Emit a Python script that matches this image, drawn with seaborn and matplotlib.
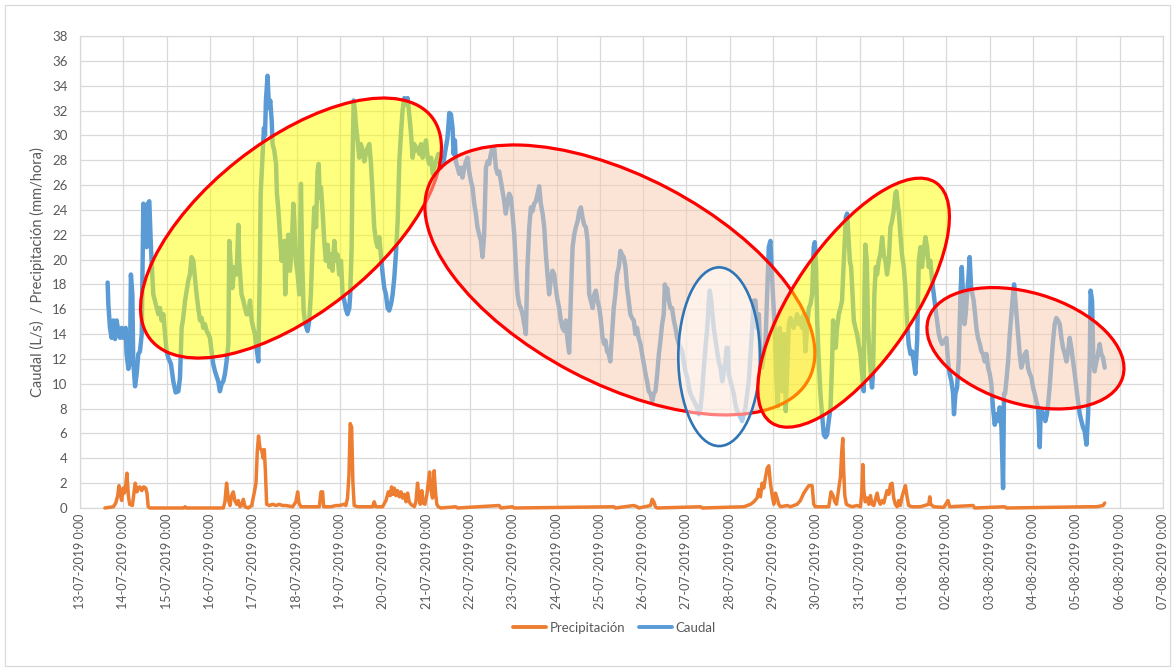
import pandas as pd
import matplotlib
matplotlib.use("Agg")
import matplotlib.pyplot as plt
import matplotlib.dates as mdates
from matplotlib.patches import Ellipse, Rectangle
from matplotlib.transforms import ScaledTranslation
from matplotlib.lines import Line2D
from matplotlib.ticker import FuncFormatter
import seaborn as sns

# ---------------------------------------------------------------------------
# Data: hours since 13-07-2019 00:00 and measured values
# ---------------------------------------------------------------------------
START = pd.Timestamp("2019-07-13 00:00")
END = pd.Timestamp("2019-08-07 00:00")

caudal_hours = [
    15.3, 15.7, 16.6, 17.5, 18.5, 19.4, 20.3, 21.2, 22.2, 23.1,
    24.0, 25.3, 25.8, 26.8, 27.7, 28.2, 29.0, 29.5, 30.5, 31.4,
    32.3, 33.2, 34.2, 35.1, 36.0, 36.9, 37.5, 38.4, 39.3, 40.6,
    41.5, 42.5, 43.4, 44.3, 45.2, 46.2, 47.1, 48.0, 48.9, 50.4,
    51.7, 53.0, 54.5, 55.4, 56.3, 57.2, 58.2, 59.1, 60.0, 60.9,
    61.8, 62.8, 63.7, 64.6, 65.5, 66.5, 67.4, 68.3, 69.2, 70.2,
    71.1, 72.0, 72.9, 73.8, 74.8, 76.6, 77.5, 78.5, 79.4, 80.3,
    81.2, 82.2, 82.7, 83.6, 84.4, 85.5, 86.8, 87.7, 88.2, 89.5,
    90.5, 91.4, 92.3, 93.2, 94.2, 95.1, 96.0, 96.9, 97.8, 98.8,
    99.7, 100.1, 101.0, 101.9, 102.5,
    103.0, 103.9, 104.7, 105.4, 106.2, 106.7, 107.6, 108.6, 109.1, 109.8,
    110.8, 111.7, 112.6, 113.2, 113.7, 114.6, 115.4, 116.3, 117.2, 118.2,
    118.7, 119.6, 120.6, 121.5, 122.4, 123.0, 123.9, 124.8, 126.1, 127.0,
    127.9, 128.9, 129.8, 130.8, 131.6, 132.2, 132.9, 133.5, 134.4, 135.3,
    136.2, 137.2, 138.1, 139.0, 139.9, 140.9, 141.8, 142.7, 143.6, 144.6,
    145.5, 146.4, 147.3, 148.2, 149.2, 149.7, 150.5, 151.0, 151.6, 152.3,
    153.0, 153.8, 154.7, 155.6, 156.6, 157.5, 158.4, 159.3, 160.3, 161.2,
    162.1, 163.0, 164.0, 164.9, 165.8, 166.7, 167.7, 168.6, 169.5, 170.4,
    171.3, 172.3, 173.2, 174.1, 175.0, 176.0, 176.9, 177.8, 178.7, 179.7,
    180.6, 181.5, 182.4, 183.4, 184.3, 185.2, 186.1, 187.0, 188.0, 188.9,
    189.8, 190.7, 191.7, 192.6, 193.5, 194.5, 195.4, 196.3,
    197.2, 198.5, 199.9, 201.4, 202.7, 203.6, 204.6, 205.5, 206.4, 207.0,
    207.7, 208.2, 209.2, 210.1, 211.0, 211.9, 212.9, 213.8, 214.7, 215.6,
    216.6, 217.5, 218.4, 219.3, 220.2, 221.2, 222.1, 223.0, 223.9, 224.9,
    225.8, 226.7, 227.6, 228.6, 229.5, 230.4, 231.3, 232.2, 233.2, 234.1,
    235.0, 235.9, 236.9, 237.8, 238.7, 239.6, 240.6, 241.5, 242.4, 243.3,
    244.2, 245.2, 246.1, 247.0, 247.9, 248.9, 249.8, 250.7, 251.6, 252.6,
    253.5, 254.4, 255.3, 256.3, 257.2, 258.1, 259.0, 259.9, 260.9, 261.8,
    262.7, 263.6, 264.6, 265.5, 266.4, 267.3, 268.3, 269.2, 270.1, 271.0,
    272.0, 272.9, 273.8, 274.7, 275.7, 276.6, 277.5, 278.4, 279.3, 280.3,
    281.2, 282.1, 283.0, 284.0, 284.9, 285.8, 286.7, 287.7, 288.6, 289.5,
    290.4,
    291.1, 292.0, 292.9, 293.8, 294.8, 295.7, 296.6, 297.5, 298.5, 299.4,
    300.3, 301.2, 302.2, 303.1, 304.0, 304.9, 305.8, 306.8, 307.7, 308.6,
    309.5, 310.5, 311.4, 312.4, 313.3, 314.2, 315.1, 316.1, 317.0, 317.9,
    318.8, 319.8, 320.7, 321.6, 322.5, 323.4, 324.0, 324.7, 325.3, 326.2,
    327.1, 328.0, 329.0, 329.9, 330.8, 331.8, 332.7, 333.6, 334.5, 335.4,
    336.4, 337.3, 338.2, 339.1, 340.1, 341.0, 341.9, 342.8, 343.8, 344.7,
    345.6, 346.5, 347.5, 348.4, 348.9, 349.7, 350.4, 351.1, 352.1, 353.0,
    353.9, 354.8, 355.8, 356.7, 357.6, 358.2, 358.9, 359.4, 360.4, 361.3,
    362.2, 363.1, 364.1, 365.0, 365.9, 366.8, 367.8, 368.7, 369.6, 370.5,
    371.5, 372.4, 373.3, 374.2, 375.1, 376.1, 377.0, 377.9, 378.8, 379.8,
    380.7, 381.6, 382.5, 383.5, 384.4,
    384.9, 385.8, 386.6, 387.1, 387.7, 388.4, 389.0, 389.5, 390.3, 391.0,
    391.8, 392.7, 393.6, 394.5, 395.4, 396.4, 397.3, 398.2, 399.1, 400.1,
    401.0, 401.9, 402.8, 403.8, 404.7, 405.6, 406.5, 407.1, 407.8, 408.4,
    409.3, 410.2, 411.1, 412.1, 413.0, 413.9, 414.8, 415.8, 416.7, 417.2,
    418.0, 418.7, 419.4, 420.4, 421.3, 422.2, 422.8, 423.5, 424.3, 425.0,
    425.7, 426.5, 427.2, 428.0, 428.7, 429.6, 430.5, 431.4, 432.4, 433.3,
    434.2, 434.6, 435.1, 435.9, 436.6, 437.4, 438.1, 438.8, 439.4, 440.1,
    440.9, 441.6, 442.5, 443.4, 444.4, 445.3, 446.2, 447.1, 448.1, 449.0,
    449.9, 450.8, 451.7, 452.3, 453.0, 453.7, 454.5, 455.4, 456.4, 457.3,
    458.2, 459.1, 460.1, 461.0, 461.9, 462.8, 463.8, 464.7, 465.6, 466.5,
    467.4, 468.4, 469.3, 470.2, 471.1, 472.1, 473.0, 473.9, 474.8, 475.8,
    476.7, 477.6,
    480.0, 480.9, 481.8, 482.8, 483.7, 484.2, 485.0, 485.9, 486.8, 487.8,
    488.5, 489.2, 490.0, 490.7, 491.4, 492.2, 492.9, 493.7, 494.4, 495.1,
    495.9, 496.6, 497.5, 498.5, 499.4, 500.3, 501.2, 502.2, 503.1, 504.0,
    504.9, 505.8, 506.8, 507.7, 508.6, 509.5, 510.5, 511.4, 511.9, 512.5,
    513.2, 514.2, 515.1, 516.0, 516.9, 517.5, 518.2, 519.0, 519.7, 520.6,
    521.5, 522.5, 523.4, 524.3, 525.2, 526.2, 527.1, 528.0, 528.9, 529.8,
    530.8, 531.7, 532.2, 533.0, 533.9, 534.8, 535.7, 536.5, 537.2, 538.2,
    539.1, 540.0, 540.9, 541.9, 542.8, 543.7, 544.6, 545.6, 546.5, 547.4,
    548.3, 549.2, 550.2, 551.1, 552.0, 552.9, 553.9, 554.8, 555.7, 556.6,
    557.6, 558.5, 559.4, 559.9, 560.7, 561.4, 562.1, 563.1, 564.0, 564.9,
    565.8, 566.8, 567.7,
]

caudal_lps = [
    18.15, 16.4, 14.5, 13.7, 15.1, 13.6, 15.1, 14.25, 13.7, 14.5,
    13.7, 14.5, 12.4, 11.2, 11.8, 18.8, 17.2, 11.8, 9.8, 10.8,
    12.4, 12.6, 14.0, 24.5, 23.1, 21.0, 24.5, 24.7, 21.0, 17.2,
    16.7, 16.1, 15.6, 16.1, 15.1, 15.6, 14.0, 12.6, 12.1, 11.6,
    10.2, 9.3, 9.4, 10.5, 14.5, 15.3, 16.7, 17.5, 18.3, 18.8,
    20.2, 19.9, 18.5, 17.2, 16.1, 15.1, 15.3, 14.5, 14.8, 14.25,
    14.0, 13.7, 12.6, 11.6, 11.0, 10.2, 9.4, 10.0, 10.2, 10.8,
    11.8, 13.2, 21.5, 19.4, 17.7, 19.4, 18.8, 22.8, 19.9, 17.2,
    16.7, 16.1, 15.6, 15.6, 16.7, 15.1, 14.5, 14.0, 12.9, 11.8,
    19.9, 25.3, 27.9, 30.6, 30.0,
    32.8, 34.8, 32.2, 32.8, 31.2, 29.3, 28.8, 27.7, 25.3, 24.2,
    22.0, 19.9, 21.0, 21.5, 17.2, 20.4, 22.0, 19.1, 20.7, 24.5,
    23.1, 19.9, 18.8, 17.2, 26.1, 20.4, 15.9, 14.8, 14.25, 15.1,
    17.2, 21.2, 24.2, 22.6, 27.1, 27.7, 25.0, 25.8, 23.9, 21.5,
    19.9, 21.2, 19.4, 20.4, 19.1, 21.5, 19.9, 20.4, 18.8, 19.9,
    17.2, 16.7, 16.0, 15.6, 16.1, 17.2, 21.0, 27.9, 32.8, 32.0,
    30.6, 29.6, 28.2, 29.3, 28.8, 27.9, 28.5, 29.0, 29.3, 27.7,
    25.3, 22.6, 21.5, 21.0, 21.8, 20.4, 18.8, 17.7, 17.2, 16.1,
    15.9, 16.4, 17.2, 18.5, 20.4, 23.1, 27.9, 30.1, 32.0, 33.0,
    32.5, 33.0, 31.7, 30.1, 28.2, 29.3, 28.8, 29.0, 28.5, 29.3,
    28.2, 29.0, 29.6, 28.2, 27.7, 28.2, 26.9, 27.4,
    27.9, 28.5, 27.4, 27.9, 29.0, 29.8, 31.8, 31.7, 30.6, 28.5,
    29.6, 27.9, 27.4, 26.9, 27.4, 26.6, 27.4, 27.9, 28.2, 27.1,
    26.3, 25.8, 24.5, 23.7, 22.6, 22.0, 21.5, 20.2, 22.0, 27.4,
    27.9, 27.7, 28.5, 29.0, 29.0, 27.4, 26.9, 27.1, 26.3, 25.5,
    24.7, 23.7, 24.7, 25.3, 25.0, 23.7, 22.0, 19.4, 17.2, 16.4,
    16.1, 15.6, 14.8, 14.0, 19.4, 22.6, 24.2, 23.9, 24.5, 24.7,
    25.3, 25.9, 24.5, 23.7, 22.6, 20.4, 18.8, 17.2, 18.5, 19.1,
    18.8, 17.7, 16.7, 16.1, 15.1, 14.5, 14.25, 15.1, 13.5, 12.5,
    17.2, 21.0, 22.0, 22.6, 23.1, 23.9, 24.2, 23.4, 22.8, 22.6,
    21.5, 17.2, 16.7, 16.1, 17.2, 17.5, 16.7, 16.1, 15.1, 13.7,
    13.2,
    13.5, 12.6, 12.4, 11.8, 14.0, 16.1, 17.2, 18.8, 19.4, 20.7,
    20.4, 20.2, 19.4, 17.7, 16.7, 15.6, 15.3, 15.1, 14.0, 14.5,
    13.7, 13.2, 12.4, 11.6, 10.8, 10.2, 9.4, 9.2, 8.6, 9.2,
    9.4, 10.8, 12.4, 13.5, 14.8, 15.6, 18.0, 17.2, 17.7, 16.7,
    16.1, 16.1, 15.1, 14.5, 13.7, 13.2, 12.9, 12.6, 11.8, 11.0,
    10.5, 9.7, 9.2, 8.9, 8.6, 8.35, 8.1, 7.55, 8.1, 9.4,
    11.3, 12.9, 14.5, 16.7, 17.5, 16.7, 15.6, 14.5, 13.5, 12.6,
    11.8, 11.3, 10.2, 11.0, 11.8, 12.9, 12.9, 10.8, 10.2, 9.7,
    9.2, 8.35, 7.8, 7.55, 7.3, 7.0, 7.55, 8.1, 9.2, 10.2,
    12.4, 14.5, 16.7, 16.7, 14.5, 15.6, 11.8, 11.3, 12.4, 13.5,
    17.2, 21.0, 21.5, 18.3, 15.9,
    14.5, 10.5, 8.2, 12.4, 14.5, 13.2, 9.4, 10.2, 14.0, 7.8,
    11.0, 14.8, 15.3, 14.8, 14.5, 15.1, 15.6, 14.8, 15.3, 14.5,
    15.6, 12.6, 14.5, 16.1, 16.4, 17.2, 21.0, 21.4, 19.4, 15.1,
    11.8, 9.2, 7.55, 5.9, 5.7, 5.9, 7.0, 8.1, 11.8, 15.1,
    14.0, 12.9, 14.5, 15.6, 16.1, 16.7, 18.8, 21.0, 23.4, 23.7,
    22.0, 19.9, 19.4, 17.2, 15.1, 14.5, 14.0, 13.2, 12.4, 10.8,
    9.4, 17.2, 21.2, 19.9, 14.5, 12.4, 10.8, 9.7, 11.0, 17.2,
    19.4, 18.8, 19.9, 20.4, 21.8, 20.4, 19.9, 18.8, 19.9, 22.6,
    23.1, 23.9, 25.3, 25.5, 24.5, 23.7, 22.0, 20.4, 19.4, 17.7,
    15.1, 13.2, 12.4, 12.6, 11.8, 10.8, 13.5, 19.9, 21.0, 19.4,
    20.7, 21.8, 21.0, 19.4, 19.9, 18.3, 17.2, 16.1, 15.1, 14.0,
    13.5, 13.2,
    13.7, 11.8, 10.8, 10.2, 9.2, 7.55, 9.2, 9.7, 11.8, 17.2,
    19.4, 17.2, 14.8, 15.6, 17.2, 18.5, 20.2, 17.7, 17.2, 16.7,
    15.6, 14.5, 13.7, 13.2, 12.6, 12.4, 11.8, 12.4, 11.3, 10.8,
    10.0, 8.1, 6.7, 7.55, 7.0, 8.1, 6.5, 1.6, 9.2, 9.2,
    10.2, 11.8, 14.0, 15.6, 17.2, 18.0, 16.7, 15.1, 14.0, 12.4,
    11.3, 11.8, 12.4, 12.6, 11.3, 10.8, 10.5, 9.7, 9.2, 8.6,
    8.1, 4.9, 7.55, 7.8, 7.55, 7.0, 7.55, 8.6, 9.7, 11.8,
    13.5, 14.8, 15.3, 15.1, 14.8, 13.7, 12.9, 12.4, 11.8, 12.6,
    13.7, 12.9, 11.8, 10.8, 9.7, 8.6, 7.55, 7.0, 6.5, 6.2,
    5.1, 7.55, 11.8, 17.5, 16.7, 11.8, 11.0, 11.8, 12.4, 13.2,
    12.4, 12.1, 11.3,
]

precip_hours = [
    13.8, 18.5, 19.8, 20.9, 21.6, 22.3, 23.1, 23.8, 24.6, 25.3,
    26.0, 26.8, 27.5, 29.0, 29.7, 30.6, 31.6, 32.3, 33.2, 34.2,
    35.3, 36.4, 37.1, 37.8, 38.8, 57.5, 58.2, 58.9, 79.4, 80.3,
    81.2, 82.2, 83.1, 84.0, 84.9, 85.8, 86.8, 87.7, 88.6, 89.5,
    90.5, 91.4, 93.2, 95.1, 96.5, 97.5, 98.2, 98.9, 99.7, 100.6,
    101.5, 102.1, 102.7, 103.4, 104.9, 106.7, 108.6, 110.4, 112.2, 114.1,
    117.8, 119.6, 120.6, 121.3, 122.4, 126.1, 132.6, 133.5, 134.4, 135.0,
    139.0, 141.8, 143.6, 146.4, 147.3, 148.2, 149.0, 149.7, 150.5, 151.2,
    151.9, 153.8, 157.5, 162.1, 163.0, 163.9, 167.6, 169.5, 170.8, 171.9,
    172.6, 173.3, 174.1, 175.0, 175.9, 176.9, 177.8, 178.7, 179.6, 180.6,
    181.5, 182.4, 183.3, 184.2, 185.2, 186.1, 187.0, 187.7, 188.5, 189.4,
    190.1, 191.1, 192.2, 192.9, 193.7, 194.4, 195.3, 196.2, 197.0, 197.7,
    198.5, 199.9, 208.2, 209.2, 232.2, 233.2, 239.6, 240.5, 295.8, 296.7,
    306.8, 308.7, 309.6, 316.1, 317.0, 317.9, 318.8, 319.7, 343.8, 344.7,
    367.8, 371.5, 373.3, 375.1, 376.1, 377.0, 377.9, 378.8, 379.8, 380.7,
    381.6, 382.5, 383.5, 384.4, 385.3, 386.2, 387.1, 388.1, 391.8, 393.6,
    397.3, 399.1, 401.0, 402.8, 403.8, 404.7, 405.6, 406.5, 407.4, 414.8,
    416.1, 417.2, 418.2, 419.1, 419.8, 420.6, 421.3, 422.0, 422.6, 423.1,
    423.7, 424.6, 425.9, 427.8, 430.5, 432.4, 433.1, 433.7, 434.2, 435.0,
    436.1, 437.0, 437.9, 438.8, 439.8, 440.7, 441.6, 442.5, 443.4, 444.4,
    445.3, 446.2, 447.1, 448.1, 449.0, 449.9, 450.8, 451.7, 452.7, 453.6,
    454.5, 455.4, 456.4, 457.3, 458.2, 459.1, 461.0, 465.6, 470.2, 470.8,
    471.3, 473.0, 478.5, 480.9, 481.8, 494.8, 495.7, 512.3, 513.2, 558.5,
    563.1, 566.8, 567.7,
]

precip_mm = [
    0, 0.1, 0.4, 1.0, 1.8, 1.1, 0.6, 1.6, 1.2, 1.8,
    2.8, 1.0, 0.3, 0.2, 1.0, 2.0, 1.3, 1.6, 1.7, 1.4,
    1.7, 1.6, 1.2, 0.1, 0, 0, 0.1, 0, 0, 0.5,
    2.0, 0.7, 0.2, 1.0, 1.3, 0.6, 0.3, 0.6, 0.1, 0.2,
    0.7, 0.1, 0, 0.2, 1.2, 2.0, 4.5, 5.8, 4.8, 4.7,
    4.0, 4.7, 3.0, 0.3, 0.2, 0.3, 0.2, 0.3, 0.2, 0.2,
    0.1, 0.5, 1.3, 0.4, 0.1, 0.1, 0.1, 1.3, 1.3, 0.1,
    0.1, 0.2, 0.2, 0.3, 0.2, 0.8, 2.6, 6.8, 6.5, 2.0,
    0.2, 0.1, 0.1, 0.1, 0.5, 0.1, 0.1, 0.6, 1.3, 1.0,
    1.7, 1.1, 1.6, 1.0, 1.4, 0.9, 1.3, 0.8, 1.1, 0.5,
    1.2, 0.5, 0.3, 0.2, 0.1, 0.5, 2.0, 1.0, 0.3, 1.4,
    0.4, 0.3, 1.1, 2.0, 2.9, 1.5, 0.8, 3.0, 1.2, 0.3,
    0.1, 0, 0.1, 0, 0.2, 0, 0.1, 0, 0.1, 0,
    0.2, 0.1, 0, 0.2, 0.7, 0.5, 0.1, 0, 0.1, 0,
    0.1, 0.3, 0.5, 0.8, 1.5, 0.9, 2.0, 1.6, 2.5, 3.2,
    3.4, 2.0, 1.0, 0.3, 1.2, 0.8, 0.3, 0.1, 0.2, 0.1,
    0.3, 0.6, 1.2, 1.6, 1.8, 1.8, 1.8, 0.3, 0.1, 0.1,
    1.3, 1.0, 0.5, 0.3, 1.0, 1.8, 2.5, 4.5, 5.6, 3.0,
    1.0, 0.3, 0.2, 0.1, 0.2, 0.1, 1.2, 3.5, 1.5, 0.5,
    0.8, 0.3, 1.0, 0.3, 0.2, 0.7, 1.2, 0.6, 0.3, 0.6,
    0.4, 0.9, 1.4, 1.1, 1.9, 2.0, 0.8, 0.3, 0.1, 0.6,
    0.2, 0.9, 1.4, 1.8, 0.9, 0.2, 0.1, 0.1, 0.3, 0.9,
    0.3, 0.1, 0.05, 0.6, 0.1, 0.2, 0, 0.1, 0, 0.1,
    0.1, 0.2, 0.4,
]

y_ticks = list(range(0, 39, 2))
y_label = "Caudal (L/s)  / Precipitación (mm/hora)"
series_names = ["Precipitación", "Caudal"]

# Highlighted periods: centre (hours since start, value), size in px, angle
highlights = [
    dict(h=116.9, v=22.54, w=358.6, ht=172.0, ang=38.3, kind="wet"),
    dict(h=299.1, v=18.36, w=426.7, ht=207.2, ang=-27.65, kind="dry"),
    dict(h=354.1, v=12.18, w=81.7, ht=178.7, ang=0.0, kind="mark"),
    dict(h=428.6, v=16.53, w=291.0, ht=118.6, ang=55.5, kind="wet"),
    dict(h=523.8, v=12.86, w=202.9, ht=111.3, ang=-16.6, kind="dry"),
]

# ---------------------------------------------------------------------------
# Styling
# ---------------------------------------------------------------------------
BLUE = "#5B9BD5"
ORANGE = "#ED7D31"
GRID = "#D9D9D9"
TEXT = "#595959"

sns.set_theme(style="white")
plt.rcParams["font.family"] = ["Lato", "DejaVu Sans"]

W, H = 1175, 671
fig = plt.figure(figsize=(W / 100, H / 100), dpi=100)
fig.patch.set_facecolor("white")
ax = fig.add_axes([80 / W, (H - 508) / H, (1163 - 80) / W, (508 - 36) / H])

caudal_df = pd.DataFrame({
    "fecha": START + pd.to_timedelta(caudal_hours, unit="h"),
    "valor": caudal_lps,
})
precip_df = pd.DataFrame({
    "fecha": START + pd.to_timedelta(precip_hours, unit="h"),
    "valor": precip_mm,
})

sns.lineplot(data=precip_df, x="fecha", y="valor", ax=ax, color=ORANGE,
             linewidth=2.5, estimator=None, sort=False, zorder=3)
sns.lineplot(data=caudal_df, x="fecha", y="valor", ax=ax, color=BLUE,
             linewidth=3.2, estimator=None, sort=False, zorder=3)
for ln in ax.lines:
    ln.set_solid_joinstyle("round")
    ln.set_solid_capstyle("round")
ax.lines[0].set_clip_on(False)

ax.set_xlim(START, END)
ax.set_ylim(0, 38)

ax.xaxis.set_major_locator(mdates.DayLocator())
ax.xaxis.set_major_formatter(
    FuncFormatter(lambda v, p: mdates.num2date(v).strftime("%d-%m-%Y") + " 0:00"))
ax.set_yticks(y_ticks)

ax.grid(True, color=GRID, linewidth=0.9)
ax.set_axisbelow(True)
for sp in ax.spines.values():
    sp.set_color(GRID)
    sp.set_linewidth(0.9)

ax.tick_params(axis="x", length=0, pad=4, labelsize=9, labelcolor=TEXT,
               labelrotation=90)
ax.tick_params(axis="y", length=0, pad=9, labelsize=9.5, labelcolor=TEXT)
ax.set_xlabel("")
ax.set_ylabel(y_label, fontsize=10.5, color=TEXT)
ax.yaxis.set_label_coords(-0.0323, 0.5)

# Highlight ellipses, positioned at data coordinates and sized in pixels
styles = {
    "wet": dict(facecolor=(1.0, 1.0, 0.0, 0.5), edgecolor="#FF0000", linewidth=2.3),
    "dry": dict(facecolor=(0.973, 0.796, 0.678, 0.5), edgecolor="#FF0000", linewidth=2.3),
    "mark": dict(facecolor=(1.0, 1.0, 1.0, 0.5), edgecolor="#2E75B6", linewidth=1.9),
}
for i, e in enumerate(highlights):
    cx = mdates.date2num(START + pd.Timedelta(hours=e["h"]))
    trans = fig.dpi_scale_trans + ScaledTranslation(cx, e["v"], ax.transData)
    patch = Ellipse((0, 0), e["w"] / 100, e["ht"] / 100, angle=e["ang"],
                    transform=trans, zorder=5 + i, **styles[e["kind"]])
    ax.add_patch(patch)

# Legend below the date labels
handles = [Line2D([0], [0], color=ORANGE, linewidth=2.8),
           Line2D([0], [0], color=BLUE, linewidth=2.8)]
leg = fig.legend(handles, series_names, loc="center",
                 bbox_to_anchor=(0.523, 1 - 628 / H), ncol=2, frameon=False,
                 fontsize=9.5, handlelength=2.5, handletextpad=0.3,
                 columnspacing=1.0)
for t in leg.get_texts():
    t.set_color(TEXT)

# Chart-area frame
fig.add_artist(Rectangle((5 / W, 5 / H), (W - 10) / W, (H - 10) / H,
                         transform=fig.transFigure, fill=False,
                         edgecolor=GRID, linewidth=0.9))

fig.savefig("out.png", dpi=100)
